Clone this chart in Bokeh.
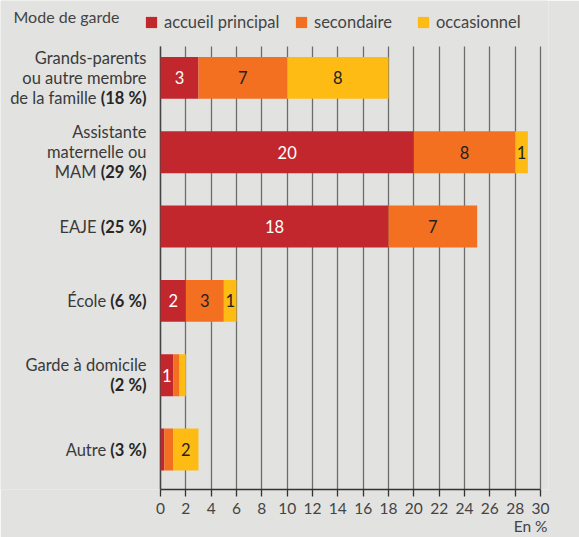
from bokeh.plotting import figure
from bokeh.models import ColumnDataSource, Range1d, FixedTicker, Label, Legend, LegendItem, Grid
from bokeh.core.properties import value
from bokeh.embed import file_html
from bokeh.resources import INLINE

# ---------------- data ----------------
categories = ["Grands-parents", "Assistante maternelle", "EAJE", "École", "Garde à domicile", "Autre"]
label_lines = [
    [("Grands-parents", ""), ("ou autre membre", ""), ("de la famille", "(18 %)")],
    [("Assistante", ""), ("maternelle ou", ""), ("MAM", "(29 %)")],
    [("EAJE", "(25 %)")],
    [("École", "(6 %)")],
    [("Garde à domicile", ""), ("", "(2 %)")],
    [("Autre", "(3 %)")],
]
principal = [3, 20, 18, 2, 1, 0.3]
secondaire = [7, 8, 7, 3, 0.5, 0.7]
occasionnel = [8, 1, 0, 1, 0.5, 2]
principal_txt = ["3", "20", "18", "2", "1", ""]
secondaire_txt = ["7", "8", "7", "3", "", ""]
occasionnel_txt = ["8", "1", "", "1", "", "2"]
series_names = ["accueil principal", "secondaire", "occasionnel"]
tick_values = [0, 2, 4, 6, 8, 10, 12, 14, 16, 18, 20, 22, 24, 26, 28, 30]
legend_title = "Mode de garde"
unit_label = "En %"

# ---------------- style ----------------
BG = "#e2e2e0"
COLORS = ["#c1272d", "#f37021", "#fdbb13"]
FONT = "Lato"
FS = "16.5px"
FS_NUM = 16.5
TICK_FS = "15.5px"
TXT = "#3a3a3a"

W, H = 579, 537
X0PX = 160.0          # x pixel of value 0
XPX = 380.0 / 30.0    # px per unit
YPX = 74.5            # px per category
Y0PX = 450.0          # y pixel of lowest category centre
AXIS_PY = 490.0       # y pixel of the x axis
TOP_PY = 46.0         # y pixel where grid starts
RIGHT_PX = 548.0      # right edge of frame

def px_x(px):
    return (px - X0PX) / XPX

def px_y(py):
    return (Y0PX - py) / YPX

ypos = [len(categories) - 1 - i for i in range(len(categories))]

src = ColumnDataSource(dict(y=ypos, p=principal, s=secondaire, o=occasionnel))

p = figure(width=W, height=H, output_backend="svg", toolbar_location=None,
           x_range=Range1d(px_x(0), px_x(RIGHT_PX)), y_range=Range1d(px_y(AXIS_PY), px_y(0)),
           min_border_left=0, min_border_right=int(W - RIGHT_PX),
           min_border_top=0, min_border_bottom=int(H - AXIS_PY))
p.background_fill_color = BG
p.border_fill_color = BG
p.outline_line_color = None

renderers = p.hbar_stack(["p", "s", "o"], y="y", height=42 / YPX, color=COLORS,
                         line_color=None, source=src)

# axes
p.xaxis.ticker = FixedTicker(ticks=tick_values)
p.xaxis.bounds = (0, 30)
p.xaxis.axis_line_color = "#333333"
p.xaxis.axis_line_width = 1.3
p.xaxis.major_tick_line_color = "#333333"
p.xaxis.major_tick_line_width = 1.3
p.xaxis.major_tick_out = 7
p.xaxis.major_tick_in = 0
p.xaxis.minor_tick_line_color = None
p.xaxis.major_label_text_font = FONT
p.xaxis.major_label_text_font_size = TICK_FS
p.xaxis.major_label_text_color = "#444444"
p.xaxis.major_label_standoff = 6
# label is centred on the frame end; trailing no-break spaces shift it left
p.xaxis.axis_label = unit_label + "\u00a0" * 9
p.xaxis.axis_label_align = "end"
p.xaxis.axis_label_standoff = 0
p.xaxis.axis_label_text_font = FONT
p.xaxis.axis_label_text_font_size = TICK_FS
p.xaxis.axis_label_text_font_style = "normal"
p.xaxis.axis_label_text_color = "#444444"

p.yaxis.visible = False

p.xgrid.ticker = FixedTicker(ticks=tick_values)
p.xgrid.grid_line_color = "#6c6c6c"
p.xgrid.grid_line_width = 1.3
p.xgrid.cross_bounds = (px_y(AXIS_PY), px_y(TOP_PY))
p.ygrid.visible = False

# vertical base line at 0
base = Grid(dimension=0, ticker=FixedTicker(ticks=[0]), grid_line_color="#444444",
            grid_line_width=1.4, cross_bounds=(px_y(AXIS_PY), px_y(TOP_PY)))
p.add_layout(base)

# bar value labels
cum1 = principal
cum2 = [a + b for a, b in zip(principal, secondaire)]
cum3 = [a + b for a, b in zip(cum2, occasionnel)]
lab_x, lab_y, lab_t, lab_c = [], [], [], []
for i in range(len(categories)):
    for left, right, t, col in ((0, cum1[i], principal_txt[i], "#ffffff"),
                                (cum1[i], cum2[i], secondaire_txt[i], "#222222"),
                                (cum2[i], cum3[i], occasionnel_txt[i], "#222222")):
        if t:
            lab_x.append((left + right) / 2)
            lab_y.append(ypos[i])
            lab_t.append(t)
            lab_c.append(col)
lsrc = ColumnDataSource(dict(x=lab_x, y=lab_y, t=lab_t, c=lab_c))
p.text(x="x", y="y", text="t", text_color="c", source=lsrc, text_align="center",
       text_baseline="middle", text_font=value(FONT), text_font_size=FS)

# category labels (normal + bold part)
BOLD_W = {"(": 0.33, ")": 0.33, " ": 0.193, "%": 0.80}
def bold_width(s):
    return sum(BOLD_W.get(ch, 0.58) for ch in s) * FS_NUM

RIGHT = 146
for i, lines in enumerate(label_lines):
    cy = Y0PX - ypos[i] * YPX
    n = len(lines)
    for k, (normal, bold) in enumerate(lines):
        ly = cy + (k - (n - 1) / 2) * 20
        edge = RIGHT
        if bold:
            p.add_layout(Label(x=px_x(RIGHT), y=px_y(ly), text=bold, text_align="right",
                               text_baseline="middle", text_font=FONT, text_font_size=FS,
                               text_font_style="bold", text_color="#262626"))
            edge = RIGHT - bold_width(bold) - 3.5
        if normal:
            p.add_layout(Label(x=px_x(edge), y=px_y(ly), text=normal, text_align="right",
                               text_baseline="middle", text_font=FONT, text_font_size=FS,
                               text_color=TXT))

# legend
p.add_layout(Label(x=px_x(13), y=px_y(16.5), text=legend_title, text_align="left",
                   text_baseline="middle", text_font=FONT, text_font_size="16px",
                   text_color="#444444"))
legend_x = [144, 294, 416]
for r, name, lx in zip(renderers, series_names, legend_x):
    lg = Legend(items=[LegendItem(label=name, renderers=[r])],
                location=(lx, AXIS_PY - 33), orientation="horizontal",
                padding=0, margin=0, border_line_color=None, background_fill_alpha=0,
                glyph_width=14, glyph_height=14, label_standoff=6, label_height=14,
                label_text_font=FONT, label_text_font_size=FS, label_text_color="#444444",
                label_text_baseline="middle")
    p.add_layout(lg, "center")

open("out.html", "w").write(file_html(p, INLINE))
